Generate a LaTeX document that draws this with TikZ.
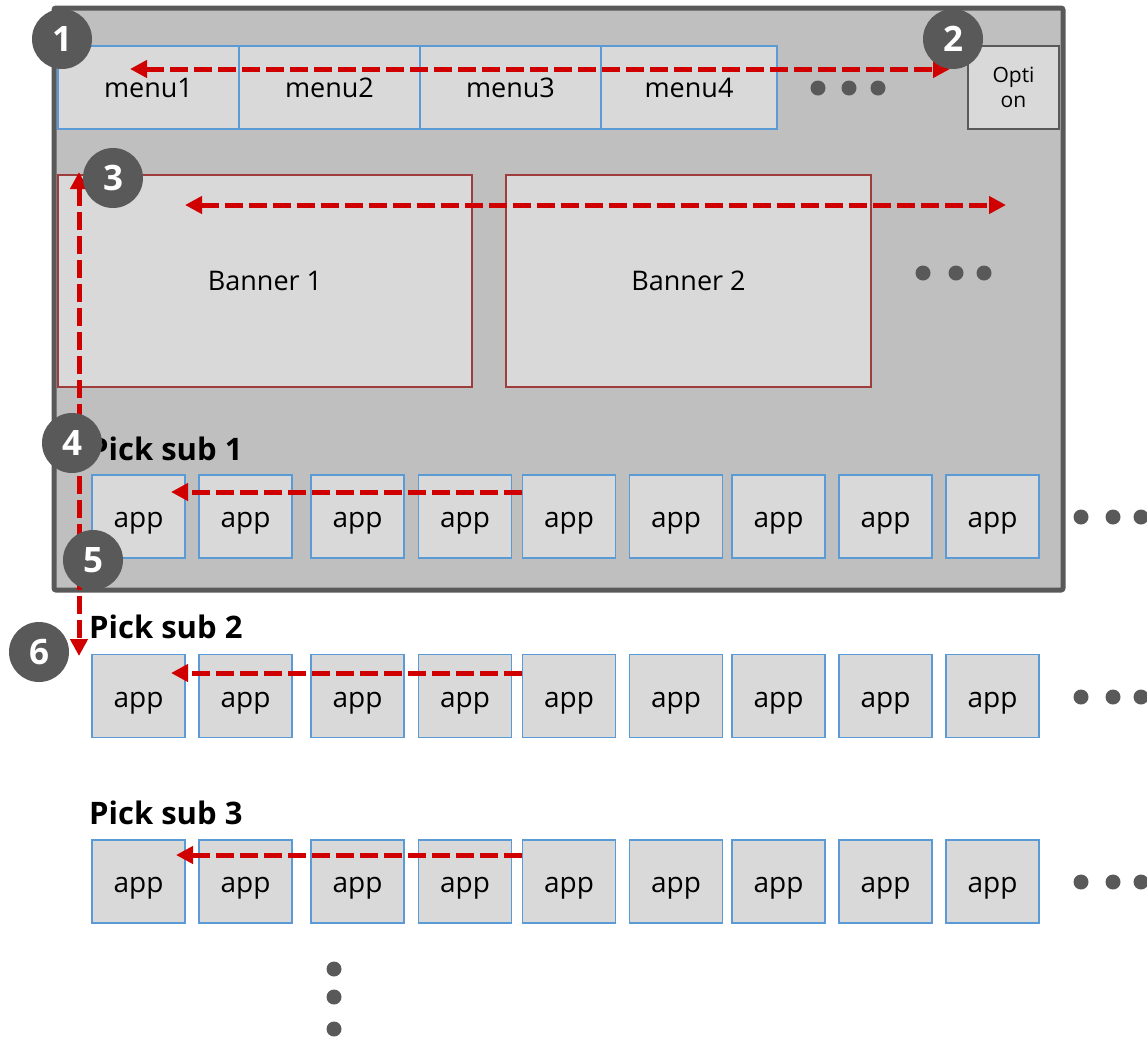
\documentclass[tikz,border=0pt]{standalone}
\usepackage{fontspec}
\setmainfont{Open Sans}
\usetikzlibrary{arrows.meta, positioning, calc}
\definecolor{FrameGray}{HTML}{BFBFBF}
\definecolor{DarkGray}{HTML}{595959}
\definecolor{BoxGray}{HTML}{D9D9D9}
\definecolor{AppBlue}{HTML}{5B9BD5}
\definecolor{BannerRed}{HTML}{A03C3C}
\definecolor{ArrowRed}{HTML}{D00000}
\tikzset{
  frame/.style={draw=DarkGray, line width=5pt, fill=FrameGray, rounded corners=2pt, inner sep=0pt},
  menubox/.style={draw=AppBlue, line width=1.5pt, fill=BoxGray, minimum width=181pt, minimum height=83pt, inner sep=0pt, font=\fontsize{27}{32}\selectfont},
  optbox/.style={draw=DarkGray, line width=1.5pt, fill=BoxGray, minimum width=91pt, minimum height=83pt, inner sep=0pt, align=center, font=\fontsize{21}{25}\selectfont},
  banner/.style={draw=BannerRed, line width=1.5pt, fill=BoxGray, minimum height=212pt, inner sep=0pt, font=\fontsize{27}{32}\selectfont},
  appbox/.style={draw=AppBlue, line width=1.5pt, fill=BoxGray, minimum width=93pt, minimum height=83pt, inner sep=0pt, text height=22pt, text depth=0pt, font=\fontsize{28}{32}\selectfont},
  picktitle/.style={anchor=base west, inner sep=0pt, font=\fontsize{31}{36}\selectfont\bfseries},
  badge/.style={circle, fill=DarkGray, minimum size=60pt, inner sep=0pt, text=white, font=\fontsize{35}{40}\selectfont\bfseries},
  dot/.style={circle, fill=DarkGray, minimum size=15pt, inner sep=0pt},
  redarrow/.style={-{Triangle[length=17pt, width=17pt]}, line width=5pt, draw=ArrowRed, dash pattern=on 18pt off 6pt},
  bothredarrow/.style={{Triangle[length=17pt, width=17pt]}-{Triangle[length=17pt, width=17pt]}, line width=5pt, draw=ArrowRed, dash pattern=on 18pt off 6pt}
}

\begin{document}
\begin{tikzpicture}[x=1pt, y=-1pt]
\useasboundingbox (0,0) rectangle (1147,1037);
% main screen
\node[frame, minimum width=1009pt, minimum height=582pt] (screen) at (558.5,299) {};
% menu bar
\node[menubox] (menu1) at (148.5,87.5) {menu1};
\node[menubox] (menu2) at (329.5,87.5) {menu2};
\node[menubox] (menu3) at (510.5,87.5) {menu3};
\node[menubox, minimum width=176pt] (menu4) at (689,87.5) {menu4};
\node[optbox] (option) at (1013.5,87.5) {Opti\\on};
\node[dot] (md1) at (818,88) {};
\node[dot] (md2) at (849,88) {};
\node[dot] (md3) at (878,88) {};
% banners
\node[banner, minimum width=414pt] (banner1) at (265,281) {Banner 1};
\node[banner, minimum width=365pt] (banner2) at (688.5,281) {Banner 2};
\node[dot] (bd1) at (923,273) {};
\node[dot] (bd2) at (956,273) {};
\node[dot] (bd3) at (984,273) {};
% pick sub 1
\node[picktitle] (pick1) at (89,460) {Pick sub 1};
\node[appbox] (a11) at (138.5,516.5) {app};
\node[appbox] (a12) at (245.5,516.5) {app};
\node[appbox] (a13) at (357.5,516.5) {app};
\node[appbox] (a14) at (465,516.5) {app};
\node[appbox] (a15) at (569,516.5) {app};
\node[appbox] (a16) at (676,516.5) {app};
\node[appbox] (a17) at (778.5,516.5) {app};
\node[appbox] (a18) at (885.5,516.5) {app};
\node[appbox] (a19) at (992.5,516.5) {app};
\node[dot] (rd11) at (1081,517) {};
\node[dot] (rd12) at (1113,517) {};
\node[dot] (rd13) at (1141,517) {};
% pick sub 2
\node[picktitle] (pick2) at (89,638) {Pick sub 2};
\node[appbox] (a21) at (138.5,696) {app};
\node[appbox] (a22) at (245.5,696) {app};
\node[appbox] (a23) at (357.5,696) {app};
\node[appbox] (a24) at (465,696) {app};
\node[appbox] (a25) at (569,696) {app};
\node[appbox] (a26) at (676,696) {app};
\node[appbox] (a27) at (778.5,696) {app};
\node[appbox] (a28) at (885.5,696) {app};
\node[appbox] (a29) at (992.5,696) {app};
\node[dot] (rd21) at (1081,697) {};
\node[dot] (rd22) at (1113,697) {};
\node[dot] (rd23) at (1141,697) {};
% pick sub 3
\node[picktitle] (pick3) at (89,824) {Pick sub 3};
\node[appbox] (a31) at (138.5,881.5) {app};
\node[appbox] (a32) at (245.5,881.5) {app};
\node[appbox] (a33) at (357.5,881.5) {app};
\node[appbox] (a34) at (465,881.5) {app};
\node[appbox] (a35) at (569,881.5) {app};
\node[appbox] (a36) at (676,881.5) {app};
\node[appbox] (a37) at (778.5,881.5) {app};
\node[appbox] (a38) at (885.5,881.5) {app};
\node[appbox] (a39) at (992.5,881.5) {app};
\node[dot] (rd31) at (1081,882) {};
\node[dot] (rd32) at (1113,882) {};
\node[dot] (rd33) at (1141,882) {};
% more rows
\node[dot] (vd1) at (334,969) {};
\node[dot] (vd2) at (334,997) {};
\node[dot] (vd3) at (334,1029) {};
% scroll directions
\coordinate (menuL) at (130,69);
\coordinate (menuR) at (950,69);
\coordinate (banL) at (185,205);
\coordinate (banR) at (1006,205);
\coordinate (vertT) at (79,172);
\coordinate (vertB) at (79,656);
\coordinate (row1R) at (522,492);
\coordinate (row1L) at (171,492);
\coordinate (row2R) at (522,673);
\coordinate (row2L) at (171,673);
\coordinate (row3R) at (522,855);
\coordinate (row3L) at (176,855);
\draw[bothredarrow] (menuL) -- (menuR);
\draw[bothredarrow] (banL) -- (banR);
\draw[bothredarrow] (vertT) -- (vertB);
\draw[redarrow] (row1R) -- (row1L);
\draw[redarrow] (row2R) -- (row2L);
\draw[redarrow] (row3R) -- (row3L);
% step numbers
\node[badge] (n1) at (62,39) {1};
\node[badge] (n2) at (953,39) {2};
\node[badge] (n3) at (113,178) {3};
\node[badge] (n4) at (72,443) {4};
\node[badge] (n5) at (93,560) {5};
\node[badge] (n6) at (39,652) {6};
\end{tikzpicture}
\end{document}
